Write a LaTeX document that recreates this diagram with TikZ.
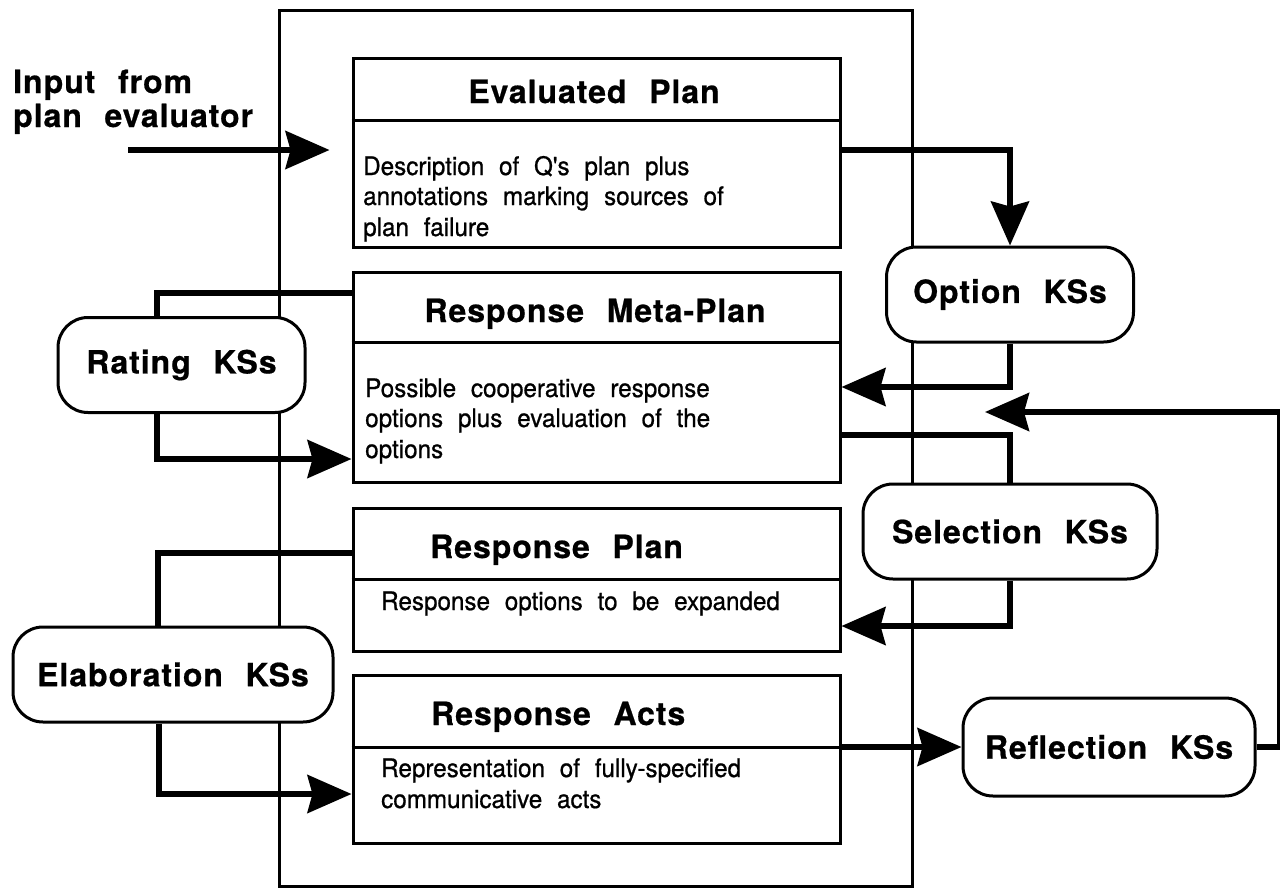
\documentclass[tikz,border=0pt]{standalone}
\usepackage{fontspec}
\setmainfont{TeX Gyre Heros}
\newfontfamily\ttlfont{TeX Gyre Heros}[WordSpace=2.3,LetterSpace=3,FakeBold=0.6]
\newfontfamily\bdyfont{TeX Gyre Heros}[WordSpace=2.2,FakeBold=0.8,FakeStretch=0.95]
\usetikzlibrary{arrows.meta}
\begin{document}
\begin{tikzpicture}[x=1pt,y=-1pt,
  frame/.style={draw, line width=3pt, inner sep=0pt},
  plan/.style={draw, line width=3pt, fill=white, inner sep=0pt, minimum width=487pt},
  divider/.style={line width=3pt},
  ks/.style={draw, line width=3pt, fill=white, rounded corners=30pt, inner sep=0pt, minimum height=95pt, font={\ttlfont\bfseries\fontsize{32}{36}\selectfont}},
  ttl/.style={inner sep=0pt, anchor=base, font={\ttlfont\bfseries\fontsize{32}{36}\selectfont}},
  bdy/.style={inner sep=0pt, anchor=base west, font={\bdyfont\fontsize{25.5}{31}\selectfont}},
  conn/.style={line width=5.5pt},
  arr/.style={conn, -{Stealth[length=44pt,width=38pt,inset=5pt]}},
]
\useasboundingbox (0,0) rectangle (1280,889);
% blackboard frame
\node[frame, minimum width=633pt, minimum height=876pt] (bb) at (595.5,448) {};

% input label
\node[ttl, anchor=base west] (in1) at (13,93) {Input from};
\node[ttl, anchor=base west] (in2) at (13,127) {plan evaluator};

% Evaluated Plan
\node[plan, minimum height=189pt] (ep) at (596.5,152.5) {};
\draw[divider] (ep.west |- 0,120) -- (ep.east |- 0,120);
\node[ttl] (ept) at (594,103) {Evaluated Plan};
\node[bdy] (epb1) at (363,175) {Description of Q's plan plus};
\node[bdy] (epb2) at (363,205) {annotations marking sources of};
\node[bdy] (epb3) at (363,236) {plan failure};

% Response Meta-Plan
\node[plan, minimum height=210pt] (mp) at (596.5,377) {};
\draw[divider] (mp.west |- 0,342) -- (mp.east |- 0,342);
\node[ttl] (mpt) at (595,322) {Response Meta-Plan};
\node[bdy] (mpb1) at (365,397) {Possible cooperative response};
\node[bdy] (mpb2) at (365,427) {options plus evaluation of the};
\node[bdy] (mpb3) at (365,458) {options};

% Response Plan
\node[plan, minimum height=143pt] (rp) at (596.5,579.5) {};
\draw[divider] (rp.west |- 0,579) -- (rp.east |- 0,579);
\node[ttl, anchor=base west] (rpt) at (430,558) {Response Plan};
\node[bdy] (rpb1) at (381,610) {Response options to be expanded};

% Response Acts
\node[plan, minimum height=168pt] (ra) at (596.5,759) {};
\draw[divider] (ra.west |- 0,747) -- (ra.east |- 0,747);
\node[ttl, anchor=base west] (rat1) at (431,725) {Response Acts};
\node[bdy] (rab1) at (381,777) {Representation of fully-specified};
\node[bdy] (rab2) at (381,808) {communicative acts};

% knowledge sources
\node[ks, minimum width=247pt] (opt) at (1010,294.5) {Option KSs};
\node[ks, minimum width=247pt] (rat) at (181.5,365) {Rating KSs};
\node[ks, minimum width=294pt] (sel) at (1010,531.5) {Selection KSs};
\node[ks, minimum width=320pt] (ela) at (173,674.5) {Elaboration KSs};
\node[ks, minimum width=292pt, minimum height=98pt] (ref) at (1109,747) {Reflection KSs};

% connectors
\coordinate (inp) at (128,150);
\draw[arr, shorten >=22pt] (inp) -- (ep.west |- inp);
\draw[arr] (ep.east |- 0,150) -| (opt.north);
\draw[arr] (opt.south) |- (mp.east |- 0,387);
\draw[conn] (mp.east |- 0,435) -| (sel.north);
\draw[arr] (sel.south) |- (rp.east |- 0,626);
\draw[conn] (mp.west |- 0,293) -| (rat.north -| 157,0);
\draw[arr] (rat.south -| 157,0) |- (mp.west |- 0,459);
\draw[conn] (rp.west |- 0,553) -| (ela.north -| 158,0);
\draw[arr] (ela.south -| 159,0) |- (ra.west |- 0,794);
\draw[arr] (ra.east |- ref.west) -- (ref.west);
\coordinate (fb) at (985,412);
\draw[arr] (ref.east) -- ++(23,0) |- (fb);
\end{tikzpicture}
\end{document}
